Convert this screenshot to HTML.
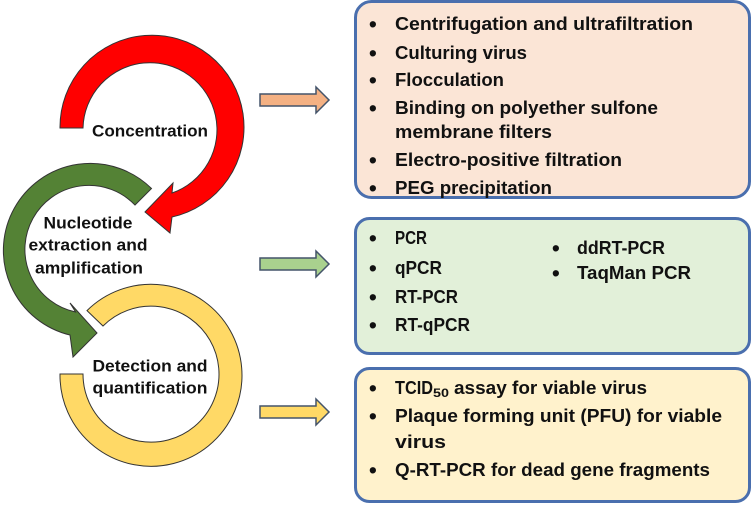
<!DOCTYPE html>
<html><head><meta charset="utf-8"><style>
html,body{margin:0;padding:0;background:#fff;}
svg{display:block;}
text{font-family:"Liberation Sans",sans-serif;font-weight:bold;fill:#111;dominant-baseline:central;}
.b{font-size:22px;}
</style></head><body>
<svg width="754" height="506" viewBox="0 0 754 506" xmlns="http://www.w3.org/2000/svg">
<path d="M 60,374 A 91 91 0 1 0 87,310.6 L 103,326 A 68 68 0 1 1 83,374 Z" fill="#ffd966" stroke="#333" stroke-width="1"/>
<path d="M 151.5,188.5 A 87 87 0 1 0 70,335 L 73,357 L 97,333 L 70,303 L 75.6,312 A 64 64 0 1 1 135,205 Z" fill="#548235" stroke="#333" stroke-width="1"/>
<path d="M 60,128 A 92 92 0 1 1 172,217 L 170,233 L 145,212 L 173,183 L 172,193 A 67 67 0 1 0 83,128 Z" fill="#ff0000" stroke="#333" stroke-width="1"/>

<g font-size="17">
<text x="150" y="131" text-anchor="middle" textLength="116" lengthAdjust="spacingAndGlyphs">Concentration</text>
<text x="88" y="223" text-anchor="middle" textLength="89" lengthAdjust="spacingAndGlyphs">Nucleotide</text>
<text x="88" y="245" text-anchor="middle" textLength="119" lengthAdjust="spacingAndGlyphs">extraction and</text>
<text x="89" y="268" text-anchor="middle" textLength="108" lengthAdjust="spacingAndGlyphs">amplification</text>
<text x="150" y="366" text-anchor="middle" textLength="115" lengthAdjust="spacingAndGlyphs">Detection and</text>
<text x="150" y="388" text-anchor="middle" textLength="115" lengthAdjust="spacingAndGlyphs">quantification</text>
</g>

<g stroke="#44546a" stroke-width="1.5" stroke-linejoin="miter">
<path d="M260,94 H316 V87 L329,100 L316,113 V106 H260 Z" fill="#f4b183"/>
<path d="M260,258 H316 V251 L329,264 L316,277 V270 H260 Z" fill="#a9d18e"/>
<path d="M260,406 H316 V399 L329,412 L316,425 V418 H260 Z" fill="#ffd966"/>
</g>

<rect x="355.5" y="1.5" width="394" height="196" rx="16" fill="#fbe5d6" stroke="#4a6fae" stroke-width="3"/>
<rect x="355.5" y="218.5" width="394" height="135" rx="14" fill="#e2f0d9" stroke="#4a6fae" stroke-width="3"/>
<rect x="355.5" y="368.5" width="394" height="133" rx="14" fill="#fff2cc" stroke="#4a6fae" stroke-width="3"/>

<g class="b">
<text x="369" y="24">•</text><text x="369" y="53">•</text><text x="369" y="80">•</text><text x="369" y="108">•</text>
<text x="369" y="160">•</text><text x="369" y="188">•</text>
<text x="369" y="238">•</text><text x="369" y="268">•</text><text x="369" y="297">•</text><text x="369" y="325">•</text>
<text x="552" y="248">•</text><text x="552" y="273">•</text>
<text x="369" y="388">•</text><text x="369" y="416">•</text><text x="369" y="470">•</text>
</g>

<g font-size="18">
<text x="395" y="24" textLength="298" lengthAdjust="spacingAndGlyphs">Centrifugation and ultrafiltration</text>
<text x="395" y="53" textLength="132" lengthAdjust="spacingAndGlyphs">Culturing virus</text>
<text x="395" y="80" textLength="109" lengthAdjust="spacingAndGlyphs">Flocculation</text>
<text x="395" y="108" textLength="263" lengthAdjust="spacingAndGlyphs">Binding on polyether sulfone</text>
<text x="395" y="132" textLength="157" lengthAdjust="spacingAndGlyphs">membrane filters</text>
<text x="395" y="160" textLength="227" lengthAdjust="spacingAndGlyphs">Electro-positive filtration</text>
<text x="395" y="188" textLength="157" lengthAdjust="spacingAndGlyphs">PEG precipitation</text>

<text x="395" y="238" textLength="32" lengthAdjust="spacingAndGlyphs">PCR</text>
<text x="395" y="268" textLength="47" lengthAdjust="spacingAndGlyphs">qPCR</text>
<text x="395" y="297" textLength="63" lengthAdjust="spacingAndGlyphs">RT-PCR</text>
<text x="395" y="325" textLength="75" lengthAdjust="spacingAndGlyphs">RT-qPCR</text>
<text x="577" y="248" textLength="88" lengthAdjust="spacingAndGlyphs">ddRT-PCR</text>
<text x="577" y="273" textLength="114" lengthAdjust="spacingAndGlyphs">TaqMan PCR</text>

<text x="395" y="388" textLength="38" lengthAdjust="spacingAndGlyphs">TCID</text>
<text x="433" y="393" font-size="12" textLength="16" lengthAdjust="spacingAndGlyphs">50</text>
<text x="454" y="388" textLength="193" lengthAdjust="spacingAndGlyphs">assay for viable virus</text>
<text x="395" y="416" textLength="327" lengthAdjust="spacingAndGlyphs">Plaque forming unit (PFU) for viable</text>
<text x="395" y="442" textLength="51" lengthAdjust="spacingAndGlyphs">virus</text>
<text x="395" y="470" textLength="315" lengthAdjust="spacingAndGlyphs">Q-RT-PCR for dead gene fragments</text>
</g>
</svg>
</body></html>
